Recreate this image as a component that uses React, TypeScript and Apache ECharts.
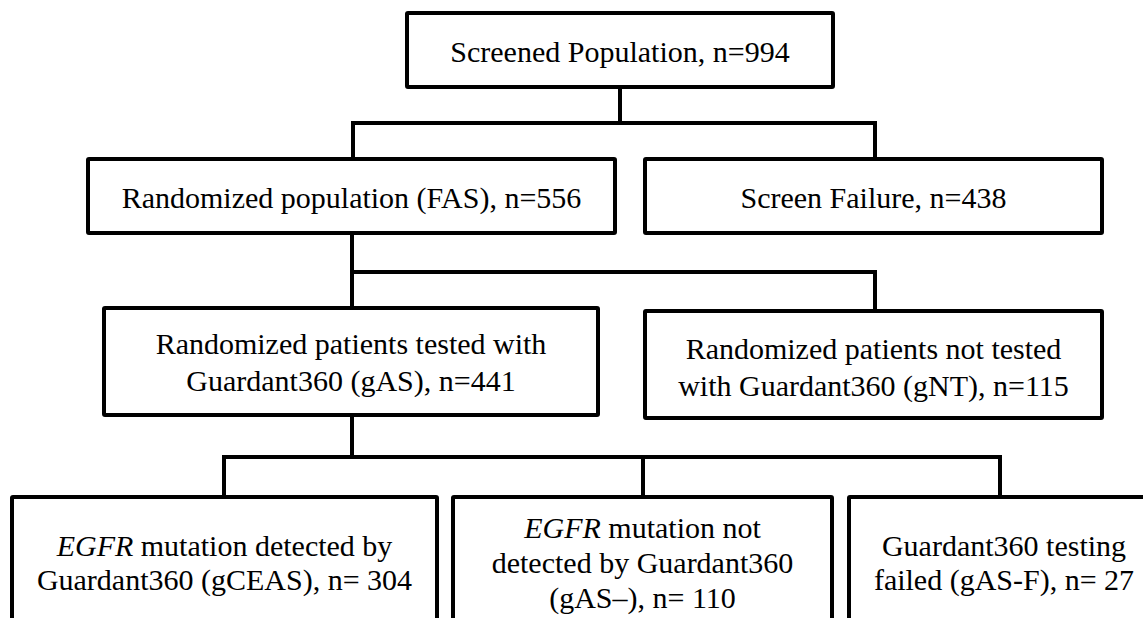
import React, { useEffect, useRef } from "react";
import * as echarts from "echarts";

// ---- content (data) ----
const nodeCounts = [994, 556, 438, 441, 115, 304, 110, 27];
const nodeLines: string[][] = [
  ["Screened Population, n=%n"],
  ["Randomized population (FAS), n=%n"],
  ["Screen Failure, n=%n"],
  ["Randomized patients tested with", "Guardant360 (gAS), n=%n"],
  ["Randomized patients not tested", "with Guardant360 (gNT), n=%n"],
  ["{i|EGFR} mutation detected by", "Guardant360 (gCEAS), n= %n"],
  ["{i|EGFR} mutation not", "detected by Guardant360", "(gAS\u2013), n= %n"],
  ["Guardant360 testing", "failed (gAS-F), n= %n"],
];

// ---- layout (positions / sizes) ----
const boxLayout = [
  { x: 407, y: 13, w: 426, h: 74, ty: [51] },
  { x: 88, y: 159, w: 527, h: 74, ty: [197] },
  { x: 645, y: 159, w: 457, h: 74, ty: [197] },
  { x: 104, y: 308, w: 494, h: 107, ty: [343, 380] },
  { x: 645, y: 311, w: 457, h: 107, ty: [348, 385] },
  { x: 12, y: 497, w: 425, h: 150, ty: [545, 579] },
  { x: 453, y: 497, w: 379, h: 150, ty: [527, 562, 597] },
  { x: 849, y: 497, w: 310, h: 150, ty: [545, 579] },
];
const connectors = [
  [620, 87, 620, 123],
  [353, 123, 875, 123],
  [353, 123, 353, 159],
  [875, 123, 875, 159],
  [352, 233, 352, 308],
  [352, 272, 875, 272],
  [875, 272, 875, 311],
  [352, 415, 352, 457],
  [224, 457, 1000, 457],
  [224, 457, 224, 497],
  [643, 457, 643, 497],
  [1000, 457, 1000, 497],
];

const FONT = "Liberation Serif";
const FS = 30;
const LW = 4;

export default function App() {
  const ref = useRef<HTMLDivElement>(null);
  useEffect(() => {
    if (!ref.current) return;
    const chart = echarts.init(ref.current, undefined, { renderer: "svg" });
    const graphic: any[] = [];
    connectors.forEach(([x1, y1, x2, y2]) => {
      graphic.push({
        type: "line",
        shape: { x1, y1, x2, y2 },
        style: { stroke: "#000", lineWidth: LW, lineCap: "square" },
      });
    });
    boxLayout.forEach((b, i) => {
      graphic.push({
        type: "rect",
        shape: { x: b.x, y: b.y, width: b.w, height: b.h, r: 1 },
        style: { fill: "#fff", stroke: "#000", lineWidth: LW },
      });
      nodeLines[i].forEach((ln, j) => {
        graphic.push({
          type: "text",
          x: b.x + b.w / 2,
          y: b.ty[j],
          style: {
            text: ln.replace("%n", String(nodeCounts[i])),
            fill: "#000",
            font: `${FS}px "${FONT}"`,
            fontFamily: FONT,
            fontSize: FS,
            align: "center",
            verticalAlign: "middle",
            rich: {
              i: { fontStyle: "italic", fontFamily: FONT, fontSize: FS, fill: "#000" },
            },
          },
        });
      });
    });
    chart.setOption({ animation: false, backgroundColor: "#fff", graphic });
    return () => chart.dispose();
  }, []);
  return (
    <div
      ref={ref}
      style={{ position: "fixed", left: 0, top: 0, width: 1143, height: 618, background: "#fff" }}
    />
  );
}
